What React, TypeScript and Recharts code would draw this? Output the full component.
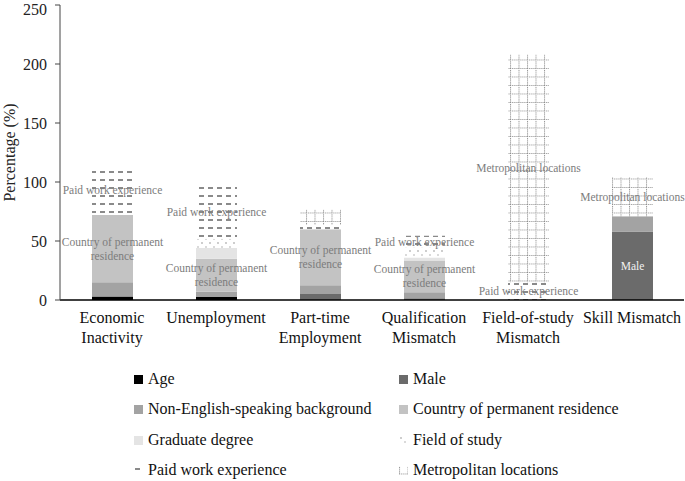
import { BarChart, Bar, XAxis, YAxis, LabelList, Legend } from 'recharts'

const categories = [
  'Economic\nInactivity',
  'Unemployment',
  'Part-time\nEmployment',
  'Qualification\nMismatch',
  'Field-of-study\nMismatch',
  'Skill Mismatch',
]

const age = [3, 2.5, 0, 0, 0, 0]
const male = [0, 0, 5, 1.5, 0, 58]
const nesb = [12, 4.5, 7.5, 5, 0, 13]
const residence = [57, 28, 47.5, 27, 0, 0]
const graduate = [0, 9, 0, 2.5, 0, 0]
const fieldOfStudy = [0, 8, 0, 8.5, 0, 0]
const paidWork = [42, 45, 3.5, 10, 15, 0]
const metro = [0, 0, 13, 0, 193, 33]

const yTicks = [0, 50, 100, 150, 200, 250]

// category indexes where a segment carries its name inside the bar
const labelled: Record<string, number[]> = {
  male: [5],
  residence: [0, 1, 2, 3],
  paidWork: [0, 1, 3, 4],
  metro: [4, 5],
}

const FONT = '"Liberation Serif", "Times New Roman", serif'

const series = [
  { key: 'age', name: 'Age', fill: '#000000', values: age },
  { key: 'male', name: 'Male', fill: '#6b6b6b', values: male, lines: ['Male'], color: '#f2f2f2' },
  { key: 'nesb', name: 'Non-English-speaking background', fill: '#a3a3a3', values: nesb },
  {
    key: 'residence',
    name: 'Country of permanent residence',
    fill: '#c3c3c3',
    values: residence,
    lines: ['Country of permanent', 'residence'],
  },
  { key: 'graduate', name: 'Graduate degree', fill: '#e4e4e4', values: graduate },
  { key: 'fieldOfStudy', name: 'Field of study', fill: 'url(#dots)', values: fieldOfStudy },
  {
    key: 'paidWork',
    name: 'Paid work experience',
    fill: 'url(#dashes)',
    values: paidWork,
    lines: ['Paid work experience'],
  },
  {
    key: 'metro',
    name: 'Metropolitan locations',
    fill: 'url(#grid)',
    values: metro,
    lines: ['Metropolitan locations'],
  },
]

const data = categories.map((name, i) => {
  const row: Record<string, string | number> = { name }
  series.forEach((s) => {
    row[s.key] = s.values[i]
  })
  return row
})

// label value is 'show' only for the segments listed in `labelled`
const labelKey = (key: string) => (row: any) =>
  (labelled[key] || []).includes(categories.indexOf(row.name)) ? 'show' : ''

const segmentLabel = (lines: string[], color = '#7c7c7c') => (props: any) => {
  if (props.value !== 'show') return null
  const vb = props.viewBox || props
  const cx = vb.x + vb.width / 2
  const cy = vb.y + vb.height / 2
  const lh = 14
  const start = cy - ((lines.length - 1) * lh) / 2
  return (
    <text
      x={cx}
      y={start}
      textAnchor="middle"
      dominantBaseline="central"
      fontFamily={FONT}
      fontSize={11.5}
      fill={color}
    >
      {lines.map((l, j) => (
        <tspan key={j} x={cx} y={start + j * lh}>
          {l}
        </tspan>
      ))}
    </text>
  )
}

const CategoryTick = ({ x, y, payload }: any) => {
  const lines = String(payload.value).split('\n')
  return (
    <text x={x} y={y} textAnchor="middle" fontFamily={FONT} fontSize={16} fill="#111">
      {lines.map((l, j) => (
        <tspan key={j} x={x} y={y + 23 + j * 20}>
          {l}
        </tspan>
      ))}
    </text>
  )
}

const renderLegend = () => (
  <div style={{ position: 'relative', width: 685, height: 110, fontFamily: FONT, fontSize: 16, color: '#111' }}>
    {series.map((s, i) => (
      <div
        key={s.key}
        style={{
          position: 'absolute',
          left: i % 2 === 0 ? 134 : 399,
          top: Math.floor(i / 2) * 30.3,
          height: 18,
          display: 'flex',
          alignItems: 'center',
          whiteSpace: 'nowrap',
        }}
      >
        <svg width={10} height={10} style={{ marginRight: 4 }}>
          <rect x={0} y={1} width={9} height={9} fill={s.fill} />
        </svg>
        <span>{s.name}</span>
      </div>
    ))}
  </div>
)

export default function App() {
  return (
    <div style={{ position: 'absolute', left: 0, top: 0, width: 685, height: 481, background: '#fff' }}>
      <BarChart
        width={685}
        height={481}
        data={data}
        margin={{ top: 5, right: 1, bottom: 121, left: 0 }}
      >
        <defs>
          <pattern id="dashes" width={9} height={8} patternUnits="userSpaceOnUse">
            <rect width={9} height={8} fill="#fff" />
            <line x1={1} y1={4} x2={6} y2={4} stroke="#4a4a4a" strokeWidth={1.3} />
          </pattern>
          <pattern id="dots" width={8} height={8} patternUnits="userSpaceOnUse">
            <rect width={8} height={8} fill="#fff" />
            <circle cx={2} cy={3} r={0.7} fill="#777" />
            <circle cx={6} cy={7} r={0.7} fill="#999" />
          </pattern>
          <pattern id="grid" width={8.5} height={8.5} patternUnits="userSpaceOnUse">
            <rect width={8.5} height={8.5} fill="#fff" />
            <line x1={0} y1={0.5} x2={8.5} y2={0.5} stroke="#8a8a8a" strokeWidth={1} strokeDasharray="1 1" />
            <line x1={0.5} y1={0} x2={0.5} y2={8.5} stroke="#8a8a8a" strokeWidth={1} strokeDasharray="1 1" />
          </pattern>
        </defs>
        <XAxis
          dataKey="name"
          height={60}
          interval={0}
          tickLine={false}
          tickSize={0}
          tickMargin={0}
          axisLine={{ stroke: '#000', strokeWidth: 1.5 }}
          tick={<CategoryTick />}
        />
        <YAxis
          width={60}
          domain={[0, 250]}
          ticks={yTicks}
          tickSize={5}
          tickMargin={8}
          axisLine={{ stroke: '#444' }}
          tickLine={{ stroke: '#444' }}
          tick={{ fontFamily: FONT, fontSize: 16, fill: '#222' }}
          label={{
            content: ({ viewBox }: any) => {
              const cx = viewBox.x + 9
              const cy = viewBox.y + viewBox.height / 2
              return (
                <text
                  x={cx}
                  y={cy}
                  transform={`rotate(-90 ${cx} ${cy})`}
                  textAnchor="middle"
                  dominantBaseline="central"
                  fontFamily={FONT}
                  fontSize={16}
                  fill="#222"
                >
                  Percentage (%)
                </text>
              )
            },
          }}
        />
        <Legend
          layout="horizontal"
          verticalAlign="middle"
          align="center"
          wrapperStyle={{ top: 370, left: 0, width: 685 }}
          content={renderLegend}
        />
        {series.map((s) => (
          <Bar
            key={s.key}
            dataKey={s.key}
            name={s.name}
            stackId="a"
            fill={s.fill}
            barSize={41}
            isAnimationActive={false}
          >
            {s.lines && <LabelList dataKey={labelKey(s.key)} content={segmentLabel(s.lines, s.color)} />}
          </Bar>
        ))}
      </BarChart>
    </div>
  )
}
